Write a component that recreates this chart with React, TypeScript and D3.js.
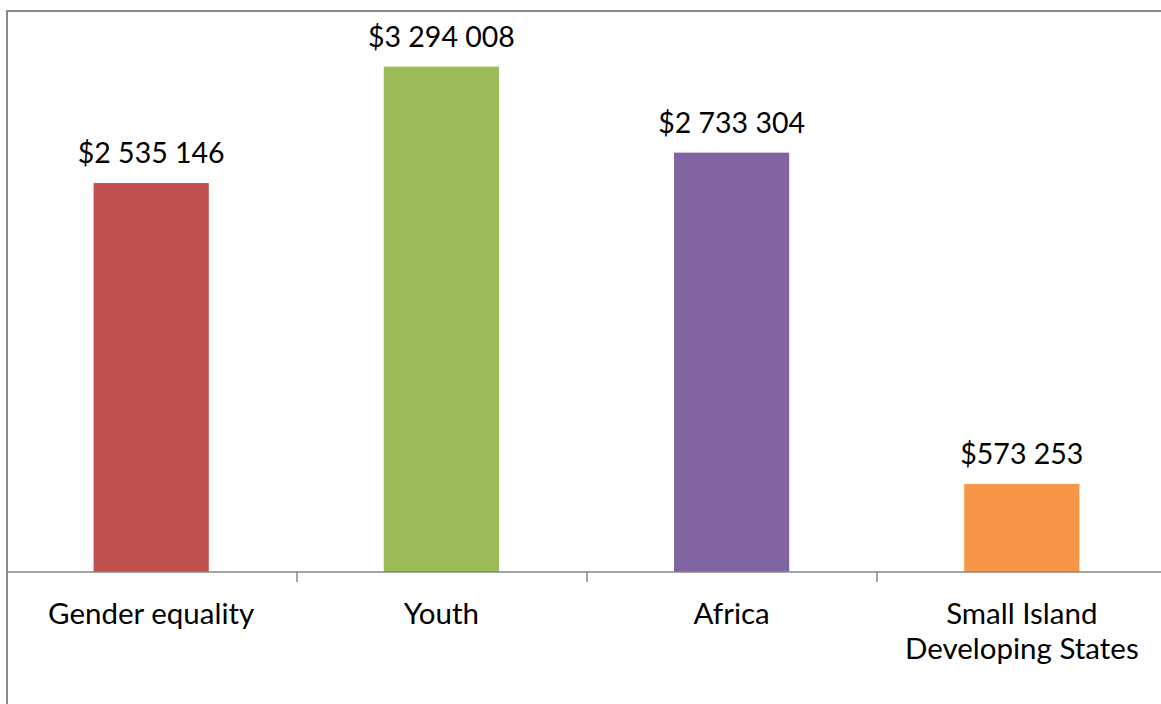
import React from "react";
import * as d3 from "d3";

const categories = ["Gender equality", "Youth", "Africa", "Small Island Developing States"];
const categoryLines = [["Gender equality"], ["Youth"], ["Africa"], ["Small Island", "Developing States"]];
const values = [2535146, 3294008, 2733304, 573253];
const valueLabels = ["$2 535 146", "$3 294 008", "$2 733 304", "$573 253"];
const colors = ["#C0504D", "#9BBB59", "#8064A2", "#F79646"];

const W = 1161;
const H = 704;

export default function App() {
  const plotLeft = 7;
  const plotRight = 1167;
  const baseY = 572;
  const x = d3.scaleBand<string>().domain(categories).range([plotLeft, plotRight]).paddingInner(0.603).paddingOuter(0.3);
  const y = d3.scaleLinear().domain([0, 3500000]).range([baseY, 35]);
  const step = (plotRight - plotLeft) / categories.length;
  const tickXs = d3.range(categories.length + 1).map((i) => plotLeft + i * step);
  const font = "Lato, 'Open Sans', sans-serif";
  const cx = (c: string) => (x(c) as number) + x.bandwidth() / 2 - 0.5;
  return (
    <svg width={W} height={H} style={{ position: "absolute", left: 0, top: 0, background: "#fff" }}>
      <rect x={0} y={0} width={W} height={H} fill="#fff" />
      {categories.map((c, i) => (
        <rect key={c} x={(x(c) as number) - 0.5} y={y(values[i])} width={x.bandwidth()} height={baseY - y(values[i])} fill={colors[i]} />
      ))}
      <line x1={plotLeft} x2={W} y1={baseY} y2={baseY} stroke="#868686" strokeWidth={1.5} />
      {tickXs.map((tx, i) => (
        <line key={i} x1={tx} x2={tx} y1={baseY} y2={baseY + 10} stroke="#868686" strokeWidth={1.5} />
      ))}
      {categories.map((c, i) => (
        <text key={c} x={cx(c)} y={y(values[i]) - 20} textAnchor="middle" fontFamily={font} fontSize={28.5} fill="#000">
          {valueLabels[i]}
        </text>
      ))}
      {categories.map((c, i) => (
        <text key={c} x={cx(c)} y={624} textAnchor="middle" fontFamily={font} fontSize={29.5} fill="#000">
          {categoryLines[i].map((ln, j) => (
            <tspan key={j} x={cx(c)} dy={j === 0 ? 0 : 35}>{ln}</tspan>
          ))}
        </text>
      ))}
      <line x1={7} x2={7} y1={10} y2={H} stroke="#8a8a8a" strokeWidth={2} />
      <line x1={6} x2={W} y1={11} y2={11} stroke="#8a8a8a" strokeWidth={2} />
    </svg>
  );
}
